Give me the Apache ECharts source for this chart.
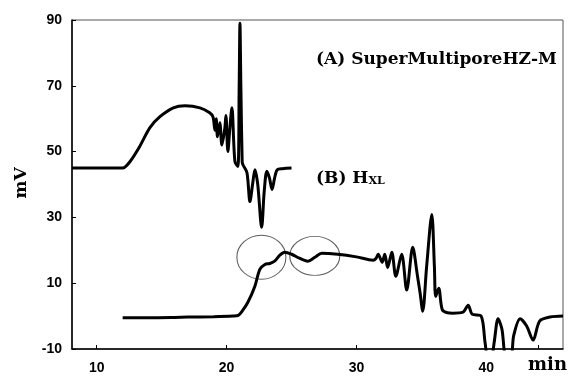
<!DOCTYPE html>
<html>
<head>
<meta charset="utf-8">
<script src="https://cdn.jsdelivr.net/npm/echarts@6/dist/echarts.min.js"></script>
<style>
  html, body { margin: 0; padding: 0; background: #fff; }
  #chart { width: 581px; height: 376px; }
</style>
</head>
<body>
<div id="chart"></div>
<script>
// retention time (min) / signal (mV)
const timeA = [8.1, 10, 12.0, 12.57, 13.3, 14.1, 14.87, 15.9, 16.8, 17.95, 18.7, 18.96, 19.1, 19.2, 19.3, 19.48, 19.64, 19.87, 19.95, 20.1, 20.25, 20.41, 20.64, 20.87, 20.97, 21.03, 21.1, 21.2, 21.26, 21.57, 21.8, 22.0, 22.18, 22.4, 22.7, 22.9, 23.1, 23.3, 23.5, 23.7, 23.9, 24.3, 25.0]
const signalA = [45, 45, 45, 47, 51.5, 57.3, 60.6, 63.3, 63.9, 63.3, 61.8, 60.5, 56.5, 60, 54.5, 58.8, 52, 57.3, 61, 50, 57, 63.3, 47, 45.5, 70, 89, 70, 47, 46, 43.6, 34.8, 40, 44.5, 40, 27, 38, 44, 42, 38.5, 42, 44.5, 44.8, 45]

const timeB = [12.0, 14, 16, 17, 19, 20.5, 20.9, 21.2, 21.64, 22.18, 22.56, 22.95, 23.33, 23.7, 24.1, 24.48, 25.0, 25.6, 26.25, 26.8, 27.33, 28.56, 30, 31.28, 31.5, 31.67, 31.98, 32.18, 32.4, 32.72, 33.03, 33.48, 33.87, 34.33, 34.7, 34.9, 35.1, 35.4, 35.8, 36.0, 36.1, 36.33, 36.6, 37.0, 37.4, 38.2, 38.6, 38.9, 39.6, 39.9, 40.1, 40.4, 40.6, 40.9, 41.2, 41.5, 41.9, 42.1, 42.6, 43.1, 43.6, 44.1, 44.9, 45.9]
const signalB = [-0.5, -0.5, -0.4, -0.3, -0.2, 0, 0.2, 1.5, 4.2, 9.1, 14.2, 15.7, 16, 16.7, 18.5, 19.4, 18.8, 17.6, 16.7, 17.9, 19.1, 18.8, 18, 17, 17.5, 18.8, 16.4, 18.8, 14.8, 19.4, 12.1, 18.8, 7.9, 20.9, 12.1, 7, 1.5, 15, 30.9, 15, 6, 8.5, 2, 1, 0.9, 1.2, 3.3, 0.6, 0, -8, -12, -12, -8, -0.8, -4, -12, -12, -6, -0.8, -3, -7.3, -1.5, -0.3, 0]

// circled regions: [time, mV, width px, height px]
const circles = [[22.68, 17.9, 49, 44], [26.79, 18.3, 50, 39]]

const xTicks = [10, 20, 30, 40, 44]
const xLabels = [10, 20, 30, 40]

const chart = echarts.init(document.getElementById('chart'))

const labelFont = { fontFamily: 'Liberation Sans', fontWeight: 'bold', fontSize: 14, color: '#000' }
const serifBold = { fontFamily: 'DejaVu Serif', fontWeight: 'bold', fill: '#000' }

chart.setOption({
  animation: false,
  grid: {
    left: 72,
    top: 20,
    right: 18,
    bottom: 27,
    show: true,
    borderColor: '#555',
    borderWidth: 1,
  },
  xAxis: {
    type: 'value',
    min: 8.1,
    max: 45.9,
    axisLine: { onZero: false, lineStyle: { color: '#000', width: 1.5 } },
    axisTick: { inside: true, length: 4, customValues: xTicks, lineStyle: { color: '#000' } },
    axisLabel: { customValues: xLabels, margin: 12, ...labelFont },
    splitLine: { show: false },
  },
  yAxis: {
    type: 'value',
    min: -10,
    max: 90,
    interval: 20,
    axisLine: { show: true, onZero: false, lineStyle: { color: '#000', width: 1.5 } },
    axisTick: { show: true, inside: true, length: 4, lineStyle: { color: '#000' } },
    axisLabel: { margin: 10, ...labelFont },
    splitLine: { show: false },
  },
  graphic: [
    {
      type: 'text', left: 316, top: 51,
      style: { text: '(A) SuperMultiporeHZ-M', fontSize: 17, ...serifBold },
    },
    {
      type: 'text', left: 316, top: 170,
      style: {
        text: '{a|(B) H}{s|XL}',
        rich: {
          a: { fontSize: 17, fontFamily: 'DejaVu Serif', fontWeight: 'bold' },
          s: { fontSize: 11, fontFamily: 'DejaVu Serif', fontWeight: 'bold', verticalAlign: 'bottom', padding: [5, 0, 0, 0] },
        },
        fill: '#000',
      },
    },
    {
      type: 'text', x: 22, y: 183, rotation: Math.PI / 2,
      style: { text: 'mV', fontSize: 17, align: 'center', verticalAlign: 'middle', ...serifBold },
    },
    {
      type: 'text', left: 528, top: 356,
      style: { text: 'min', fontSize: 18, ...serifBold },
    },
  ],
  series: [
    {
      name: 'A',
      type: 'line',
      data: timeA.map((t, i) => [t, signalA[i]]),
      showSymbol: false,
      smooth: 0.3,
      lineStyle: { color: '#000', width: 3 },
    },
    {
      name: 'B',
      type: 'line',
      data: timeB.map((t, i) => [t, signalB[i]]),
      showSymbol: false,
      smooth: 0.3,
      clip: true,
      lineStyle: { color: '#000', width: 3 },
    },
    {
      name: 'circles',
      type: 'scatter',
      data: circles.map((c) => ({ value: [c[0], c[1]], symbolSize: [c[2], c[3]] })),
      symbol: 'circle',
      itemStyle: { color: 'rgba(0,0,0,0)', borderColor: '#333', borderWidth: 1 },
      z: 1,
    },
  ],
})
</script>
</body>
</html>
